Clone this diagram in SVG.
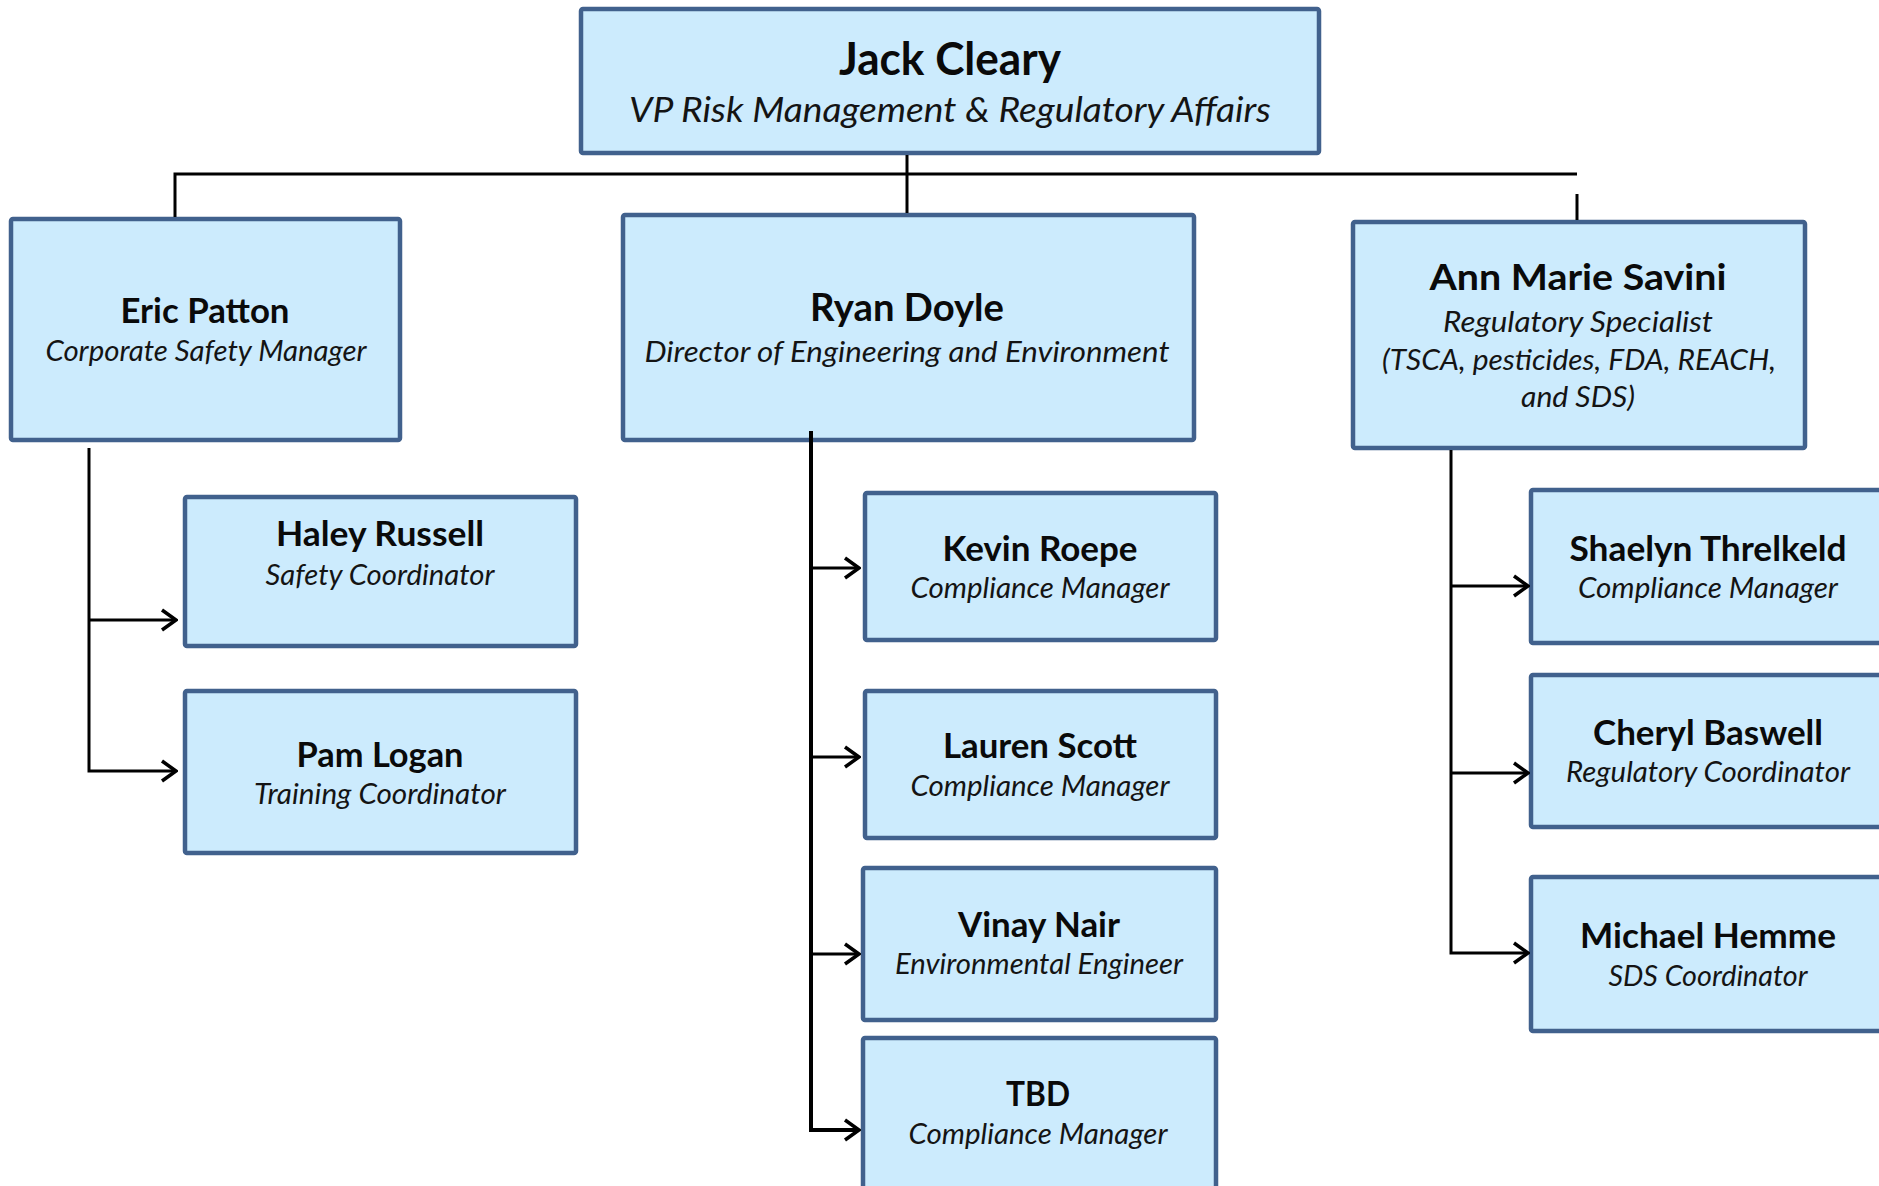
<svg xmlns="http://www.w3.org/2000/svg" width="1879" height="1186" viewBox="0 0 1879 1186">
<defs>
<style>
.box{fill:#CCEBFD;stroke:#41618D;stroke-width:4.5}
.nm{font-family:Lato,"Open Sans","Liberation Sans",sans-serif;font-weight:bold;fill:#0a0a0a;text-anchor:middle}
.tt{font-family:Lato,"Open Sans","Liberation Sans",sans-serif;font-style:italic;fill:#141414;text-anchor:middle}
.ln{fill:none;stroke:#000;stroke-width:3}
.lnb{fill:none;stroke:#000;stroke-width:4}
</style>
<marker id="arr" viewBox="0 0 18 24" markerWidth="18" markerHeight="24" refX="16" refY="12" markerUnits="userSpaceOnUse" orient="auto">
<path d="M2,2 L16,12 L2,22" fill="none" stroke="#000" stroke-width="3.5"/>
</marker>
</defs>
<rect width="1879" height="1186" fill="#fff"/>
<g id="jack">
<rect class="box" x="581" y="9" width="738" height="144" rx="2"/>
<text class="nm" x="950" y="75" font-size="46" textLength="222" lengthAdjust="spacingAndGlyphs">Jack Cleary</text>
<text class="tt" x="950" y="122" font-size="34" textLength="642" lengthAdjust="spacingAndGlyphs">VP Risk  Management &amp; Regulatory Affairs</text>
</g>
<g id="eric">
<rect class="box" x="11" y="219" width="389" height="221" rx="2"/>
<text class="nm" x="205" y="323" font-size="35" textLength="169" lengthAdjust="spacingAndGlyphs">Eric Patton</text>
<text class="tt" x="206" y="361" font-size="28" textLength="321" lengthAdjust="spacingAndGlyphs">Corporate Safety Manager</text>
</g>
<g id="ryan">
<rect class="box" x="623" y="215" width="571" height="225" rx="2"/>
<text class="nm" x="907" y="321" font-size="38" textLength="194" lengthAdjust="spacingAndGlyphs">Ryan Doyle</text>
<text class="tt" x="907" y="362" font-size="28" textLength="525" lengthAdjust="spacingAndGlyphs">Director of Engineering and Environment</text>
</g>
<g id="ann">
<rect class="box" x="1353" y="222" width="452" height="226" rx="2"/>
<text class="nm" x="1578" y="290" font-size="37" textLength="297" lengthAdjust="spacingAndGlyphs">Ann Marie Savini</text>
<text class="tt" x="1578" y="332" font-size="28" textLength="270" lengthAdjust="spacingAndGlyphs">Regulatory Specialist</text>
<text class="tt" x="1579" y="370" font-size="28" textLength="394" lengthAdjust="spacingAndGlyphs">(TSCA, pesticides, FDA, REACH,</text>
<text class="tt" x="1578" y="407" font-size="28" textLength="114" lengthAdjust="spacingAndGlyphs">and SDS)</text>
</g>
<g id="haley">
<rect class="box" x="185" y="497" width="391" height="149" rx="2"/>
<text class="nm" x="380" y="546" font-size="35" textLength="208" lengthAdjust="spacingAndGlyphs">Haley Russell</text>
<text class="tt" x="380" y="585" font-size="28" textLength="229" lengthAdjust="spacingAndGlyphs">Safety Coordinator</text>
</g>
<g id="pam">
<rect class="box" x="185" y="691" width="391" height="162" rx="2"/>
<text class="nm" x="380" y="767" font-size="35" textLength="167" lengthAdjust="spacingAndGlyphs">Pam Logan</text>
<text class="tt" x="380" y="804" font-size="28" textLength="252" lengthAdjust="spacingAndGlyphs">Training Coordinator</text>
</g>
<g id="kevin">
<rect class="box" x="865" y="493" width="351" height="147" rx="2"/>
<text class="nm" x="1040" y="561" font-size="35" textLength="195" lengthAdjust="spacingAndGlyphs">Kevin Roepe</text>
<text class="tt" x="1040" y="598" font-size="28" textLength="259" lengthAdjust="spacingAndGlyphs">Compliance Manager</text>
</g>
<g id="lauren">
<rect class="box" x="865" y="691" width="351" height="147" rx="2"/>
<text class="nm" x="1040" y="758" font-size="35" textLength="194" lengthAdjust="spacingAndGlyphs">Lauren Scott</text>
<text class="tt" x="1040" y="796" font-size="28" textLength="259" lengthAdjust="spacingAndGlyphs">Compliance Manager</text>
</g>
<g id="vinay">
<rect class="box" x="863" y="868" width="353" height="152" rx="2"/>
<text class="nm" x="1039" y="937" font-size="35" textLength="162" lengthAdjust="spacingAndGlyphs">Vinay Nair</text>
<text class="tt" x="1039" y="974" font-size="28" textLength="288" lengthAdjust="spacingAndGlyphs">Environmental Engineer</text>
</g>
<g id="tbd">
<rect class="box" x="863" y="1038" width="353" height="160" rx="2"/>
<text class="nm" x="1038" y="1106" font-size="35" textLength="64" lengthAdjust="spacingAndGlyphs">TBD</text>
<text class="tt" x="1038" y="1144" font-size="28" textLength="259" lengthAdjust="spacingAndGlyphs">Compliance Manager</text>
</g>
<g id="shaelyn">
<rect class="box" x="1531" y="490" width="360" height="153" rx="2"/>
<text class="nm" x="1708" y="561" font-size="35" textLength="277" lengthAdjust="spacingAndGlyphs">Shaelyn Threlkeld</text>
<text class="tt" x="1708" y="598" font-size="28" textLength="260" lengthAdjust="spacingAndGlyphs">Compliance Manager</text>
</g>
<g id="cheryl">
<rect class="box" x="1531" y="675" width="360" height="152" rx="2"/>
<text class="nm" x="1708" y="745" font-size="35" textLength="230" lengthAdjust="spacingAndGlyphs">Cheryl Baswell</text>
<text class="tt" x="1708" y="782" font-size="28" textLength="284" lengthAdjust="spacingAndGlyphs">Regulatory Coordinator</text>
</g>
<g id="michael">
<rect class="box" x="1531" y="877" width="360" height="154" rx="2"/>
<text class="nm" x="1708" y="948" font-size="35" textLength="256" lengthAdjust="spacingAndGlyphs">Michael Hemme</text>
<text class="tt" x="1708" y="986" font-size="28" textLength="199" lengthAdjust="spacingAndGlyphs">SDS Coordinator</text>
</g>
<g id="connectors">
<path class="ln" d="M175,217 V174 H1577"/>
<path class="ln" d="M907,155 V213"/>
<path class="ln" d="M1577,194 V220"/>
<path class="ln" d="M89,448 V771 H176" marker-end="url(#arr)"/>
<path class="ln" d="M89,620 H176" marker-end="url(#arr)"/>
<path class="lnb" d="M811,431 V1130 H859" marker-end="url(#arr)"/>
<path class="ln" d="M811,568 H859" marker-end="url(#arr)"/>
<path class="ln" d="M811,757 H859" marker-end="url(#arr)"/>
<path class="ln" d="M811,954 H859" marker-end="url(#arr)"/>
<path class="ln" d="M1451,450 V953 H1528" marker-end="url(#arr)"/>
<path class="ln" d="M1451,586 H1528" marker-end="url(#arr)"/>
<path class="ln" d="M1451,773 H1528" marker-end="url(#arr)"/>
</g>
</svg>
